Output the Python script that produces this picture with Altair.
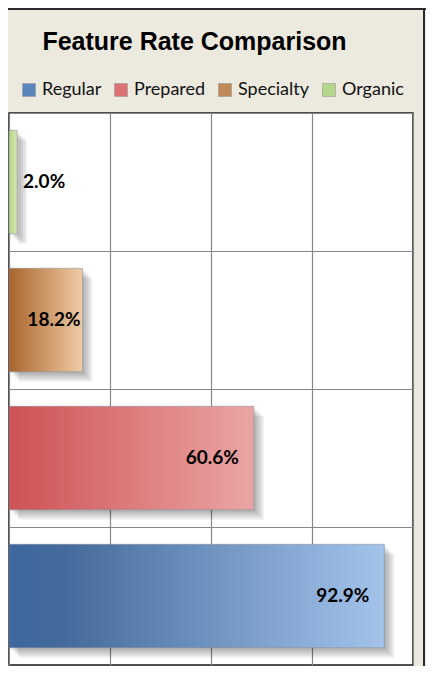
import altair as alt
import pandas as pd

# ---- data ----
categories = ["Regular", "Prepared", "Specialty", "Organic"]
rates = [92.9, 60.6, 18.2, 2.0]
row_order = ["Organic", "Specialty", "Prepared", "Regular"]
chart_title = "Feature Rate Comparison"
legend_colors = ["#5A85BD", "#DC7274", "#BF8A58", "#B6D68B"]
gradients = {
    "Regular": [("#3D679D", 0.0), ("#456B9C", 0.15), ("#A3C3EA", 1.0)],
    "Prepared": [("#CD5254", 0.0), ("#D25E60", 0.15), ("#EBA5A5", 1.0)],
    "Specialty": [("#A5642C", 0.0), ("#B4743E", 0.15), ("#F0CBA5", 1.0)],
    "Organic": [("#B2D385", 0.0), ("#C3DE9C", 0.5), ("#D6E9B6", 1.0)],
}

df = pd.DataFrame({"category": categories, "rate": rates})

xscale = alt.Scale(domain=[0, 100], nice=False, zero=True)
yscale = alt.Scale(domain=row_order, paddingInner=0, paddingOuter=0)
xaxis = alt.Axis(values=[0, 25, 50, 75, 100], grid=True, labels=False, ticks=False,
                 domain=False, title=None, gridColor="#888888", gridWidth=1.2)
yaxis = alt.Axis(grid=True, bandPosition=0, labels=False, ticks=False, domain=False,
                 title=None, gridColor="#888888", gridWidth=1.2)

base = alt.Chart(df).encode(
    y=alt.Y("category:N", scale=yscale, axis=yaxis),
    x=alt.X("rate:Q", scale=xscale, axis=xaxis),
)
bh = alt.RelativeBandSize(band=0.75)

layers = []
# soft shadows
for d in [2, 4, 6, 8, 10]:
    layers.append(base.mark_bar(color="black", opacity=0.065, xOffset=d, yOffset=d, height=bh))

# gradient bars
for c in categories:
    stops = [alt.GradientStop(color=col, offset=off) for col, off in gradients[c]]
    layers.append(
        base.transform_filter(alt.datum.category == c).mark_bar(
            color=alt.Gradient(gradient="linear", stops=stops, x1=0, x2=1, y1=0, y2=0),
            stroke="#7f8a96", strokeWidth=0.7, strokeOpacity=0.7, height=bh,
        )
    )

# legend (invisible marks, visible legend)
layers.append(
    base.mark_square(opacity=0, size=1).encode(
        color=alt.Color(
            "category:N",
            scale=alt.Scale(domain=categories, range=legend_colors),
            legend=alt.Legend(
                orient="none", direction="horizontal", legendX=11, legendY=-32,
                title=None, symbolType="square", symbolSize=169, symbolOpacity=1,
                symbolStrokeWidth=0.6, symbolStrokeColor="#999999",
                labelFont="Lato", labelFontSize=18, labelColor="#111111",
                labelOffset=4, columnPadding=10,
            ),
        )
    )
)

# data labels
lab = base.transform_calculate(label="format(datum.rate, '.1f') + '%'")
tstyle = dict(font="Lato", fontWeight="bold", fontSize=19, color="black", baseline="middle")
layers.append(lab.transform_filter(alt.datum.rate >= 50)
              .mark_text(align="right", dx=-15, **tstyle).encode(text="label:N"))
layers.append(lab.transform_filter((alt.datum.rate >= 10) & (alt.datum.rate < 50))
              .mark_text(align="right", dx=-2, **tstyle).encode(text="label:N"))
layers.append(lab.transform_filter(alt.datum.rate < 10)
              .mark_text(align="left", dx=6, **tstyle).encode(text="label:N"))

# title as text
frame = pd.DataFrame({"k": [0]})
layers.append(alt.Chart(frame).mark_text(
    font="Liberation Sans", fontSize=25, fontWeight="bold", color="black",
    align="center", baseline="alphabetic",
).encode(x=alt.value(185.5), y=alt.value(-63), text=alt.value(chart_title)))

# outer frame lines (top and right)
layers.append(alt.Chart(frame).mark_rule(color="#2a2a2a", strokeWidth=2).encode(
    x=alt.value(-1), x2=alt.value(417), y=alt.value(-104)))
layers.append(alt.Chart(frame).mark_rule(color="#2a2a2a", strokeWidth=2).encode(
    x=alt.value(415), y=alt.value(-105), y2=alt.value(553)))

chart = alt.layer(*layers).properties(
    width=404,
    height=552,
    padding={"left": 1, "top": 105, "right": 13, "bottom": 1},
    autosize=alt.AutoSizeParams(type="none"),
    background="#ECE9DF",
).configure_view(fill="white", stroke="#1a1a1a", strokeWidth=1.5)

chart.save("out.html", embed_options={"renderer": "svg", "actions": False})
